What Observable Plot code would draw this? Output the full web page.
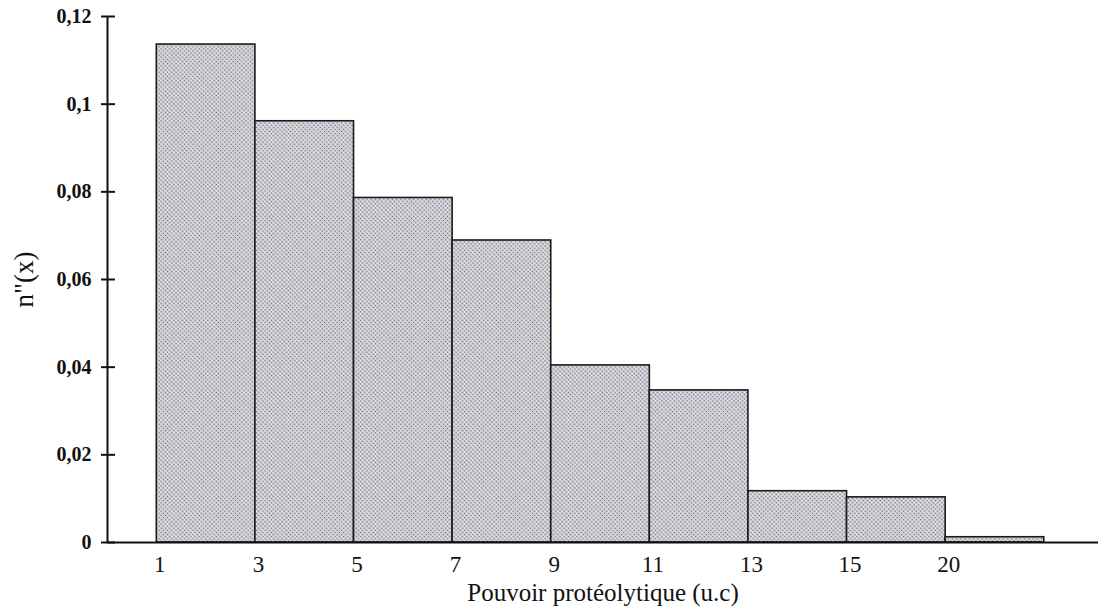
<!DOCTYPE html>
<html><head><meta charset="utf-8">
<script src="https://cdn.jsdelivr.net/npm/d3@7"></script>
<script src="https://cdn.jsdelivr.net/npm/@observablehq/plot@0.6"></script>
<style>body{margin:0;background:#fff}</style>
</head><body><div id="chart"></div>
<script>
const classLabels = ["1","3","5","7","9","11","13","15","20"];
const freq = [0.1136,0.0961,0.0786,0.0689,0.0404,0.0347,0.0117,0.0103,0.0012];
const yTicks = [0,0.02,0.04,0.06,0.08,0.1,0.12];
const yTickLabels = ["0","0,02","0,04","0,06","0,08","0,1","0,12"];
const xTitle = "Pouvoir protéolytique (u.c)";
const yTitle = "n\"(x)";

const bins = freq.map((v,i)=>({i, v}));
const serif = "'Liberation Serif','Times New Roman',serif";
const chart = Plot.plot({
  width:1098, height:607, marginLeft:107, marginRight:0, marginTop:16, marginBottom:65,
  style:{fontFamily: serif, background:"#fff", color:"#111"},
  x:{type:"linear", domain:[-0.5,9.55]},
  y:{domain:[0,0.12]},
  marks:[
    Plot.rectY(bins,{x1:"i", x2:d=>d.i+1, y1:0, y2:"v", fill:"url(#dots)", stroke:"#1a1a1a", strokeWidth:1.6}),
    Plot.ruleY([0], {stroke:"#111", strokeWidth:2}),
    Plot.ruleX([-0.5], {y1:0, y2:0.12, stroke:"#111", strokeWidth:2}),
    Plot.axisY(yTicks, {anchor:"left", tickSize:6, tickPadding:10, tickFormat:d=>yTickLabels[yTicks.indexOf(d)], fontSize:20, fontWeight:"bold", strokeWidth:2, label:null}),
    Plot.axisY(yTicks, {anchor:"left", tickSize:-8, tickFormat:()=>"", strokeWidth:2, label:null}),
    Plot.axisX(d3.range(classLabels.length), {anchor:"bottom", tickSize:0, tickPadding:13, dx:3, tickFormat:d=>classLabels[d], fontSize:23, label:null}),
    Plot.text([xTitle], {frameAnchor:"bottom", lineAnchor:"middle", textAnchor:"middle", dy:50, fontSize:25, fill:"#111"}),
    Plot.text([yTitle], {frameAnchor:"left", lineAnchor:"middle", textAnchor:"middle", dx:-83, rotate:-90, fontSize:27, fill:"#111"})
  ]
});
d3.select(chart).insert("defs", ":first-child").html(
  '<pattern id="dots" width="3" height="3" patternUnits="userSpaceOnUse" patternTransform="rotate(45)">' +
  '<rect width="3" height="3" fill="#dddee4"/><circle cx="1.5" cy="1.5" r="0.85" fill="#6d6e76"/></pattern>');
document.getElementById("chart").append(chart);
</script>
</body></html>
